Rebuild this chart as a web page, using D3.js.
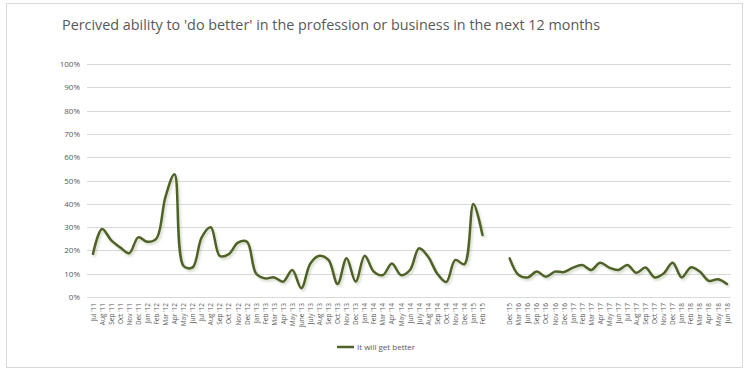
<!DOCTYPE html>
<html>
<head>
<meta charset="utf-8">
<script src="https://cdn.jsdelivr.net/npm/d3@7"></script>
<style>
  html, body { margin: 0; padding: 0; background: #fff; }
  svg { display: block; }
</style>
</head>
<body>
<svg id="chart" width="750" height="371"></svg>
<script>
const title = "Percived ability to 'do better' in the profession or business in the next 12 months";
const seriesName = "It will get better";
const categories = [
  "Jul '11","Aug '11","Sep '11","Oct '11","Nov '11","Dec '11","Jan '12","Feb '12","Mar '12","Apr '12",
  "May '12","Jun '12","Jul '12","Aug '12","Sep '12","Oct '12","Nov '12","Dec '12","Jan '13","Feb '13",
  "Mar '13","Apr '13","May '13","June '13","July '13","Aug '13","Sep '13","Oct '13","Nov '13","Dec '13",
  "Jan '14","Feb '14","Mar '14","Apr '14","May '14","Jun '14","July '14","Aug '14","Sep '14","Oct '14",
  "Nov '14","Dec '14","Jan '15","Feb '15","","",
  "Dec '15","Mar '16","Jun '16","Sep '16","Oct '16","Nov '16","Dec '16","Jan '17","Feb '17","Mar '17",
  "Apr '17","May '17","Jun '17","Jul '17","Aug '17","Sep '17","Oct '17","Nov '17","Dec '17","Jan '18",
  "Feb '18","Mar '18","Apr '18","May '18","Jun '18"
];
const values = [
  18.5, 29.2, 24.4, 21.3, 18.8, 25.6, 23.7, 25.1, 43.0, 52.7,
  13.3, 12.7, 25.6, 29.9, 17.6, 18.4, 23.3, 23.7, 10.1, 8.0,
  8.4, 6.6, 11.6, 3.8, 14.4, 17.7, 15.9, 5.6, 16.6, 6.6,
  17.7, 10.9, 9.4, 14.4, 9.4, 11.6, 20.9, 17.3, 10.1, 6.4,
  15.9, 14.1, 39.9, 26.6, null, null,
  16.6, 9.4, 8.4, 10.9, 8.7, 10.9, 10.7, 12.6, 13.7, 11.6,
  14.7, 12.6, 11.6, 13.7, 10.4, 12.7, 8.4, 10.1, 14.7, 8.4,
  12.7, 10.9, 6.9, 7.6, 5.6
];
const yTicks = [0, 10, 20, 30, 40, 50, 60, 70, 80, 90, 100];

const svg = d3.select("#chart");
const textColor = "#595959";
const lineColor = "#4f6228";

// outer frame
svg.append("rect").attr("x", 6.5).attr("y", 3.5).attr("width", 736).attr("height", 364)
  .attr("fill", "#fff").attr("stroke", "#d9d9d9").attr("stroke-width", 1);

// title
svg.append("text").attr("x", 62).attr("y", 30)
  .attr("font-family", "'Open Sans', sans-serif").attr("font-size", 15)
  .attr("fill", textColor)
  .attr("textLength", 538).attr("lengthAdjust", "spacingAndGlyphs")
  .text(title);

const idx = categories.map((d, i) => i);
const x = d3.scalePoint().domain(idx).range([93, 727]);
const y = d3.scaleLinear().domain([0, 100]).range([297, 64]);

// gridlines
svg.append("g").selectAll("line").data(yTicks).join("line")
  .attr("x1", 87).attr("x2", 731)
  .attr("y1", d => Math.round(y(d)) + 0.5).attr("y2", d => Math.round(y(d)) + 0.5)
  .attr("stroke", "#d9d9d9").attr("stroke-width", 1);

// y axis labels
const yAxis = d3.axisLeft(y).tickValues(yTicks).tickFormat(d => d + "%").tickSize(0).tickPadding(0);
const gy = svg.append("g").attr("transform", "translate(80,0)").call(yAxis);
gy.select(".domain").remove();
gy.selectAll("text").attr("font-family", "'Open Sans', sans-serif").attr("font-size", 8).attr("fill", textColor);

// x axis labels
const xAxis = d3.axisBottom(x).tickFormat(i => categories[i]).tickSize(0).tickPadding(0);
const gx = svg.append("g").attr("transform", "translate(0,303)").call(xAxis);
gx.select(".domain").remove();
gx.selectAll("text")
  .attr("font-family", "'Open Sans', sans-serif").attr("font-size", 6.5).attr("fill", textColor)
  .attr("text-anchor", "end")
  .attr("transform", "rotate(-90)")
  .attr("x", 0).attr("y", 0).attr("dx", 0).attr("dy", "0.32em");

// shadow filter
const defs = svg.append("defs");
const f = defs.append("filter").attr("id", "shadow").attr("x", "-5%").attr("y", "-5%").attr("width", "110%").attr("height", "120%");
f.append("feDropShadow").attr("dx", 1.5).attr("dy", 2).attr("stdDeviation", 1)
  .attr("flood-color", "#7f8f60").attr("flood-opacity", 0.35);

// line
const line = d3.line()
  .defined(d => d.v !== null)
  .x(d => x(d.i))
  .y(d => y(d.v))
  .curve(d3.curveCatmullRom.alpha(0.5));
svg.append("path")
  .datum(values.map((v, i) => ({ i, v })))
  .attr("d", line)
  .attr("fill", "none").attr("stroke", lineColor).attr("stroke-width", 2.5)
  .attr("stroke-linejoin", "round").attr("stroke-linecap", "round")
  .attr("filter", "url(#shadow)");

// legend
const lg = svg.append("g").attr("transform", "translate(337,347)");
lg.append("line").attr("x1", 0).attr("x2", 17).attr("y1", 0).attr("y2", 0)
  .attr("stroke", lineColor).attr("stroke-width", 2.5);
lg.append("text").attr("x", 20).attr("y", 0).attr("dy", "0.35em")
  .attr("font-family", "'Open Sans', sans-serif").attr("font-size", 8).attr("fill", textColor)
  .text(seriesName);
</script>
</body>
</html>
